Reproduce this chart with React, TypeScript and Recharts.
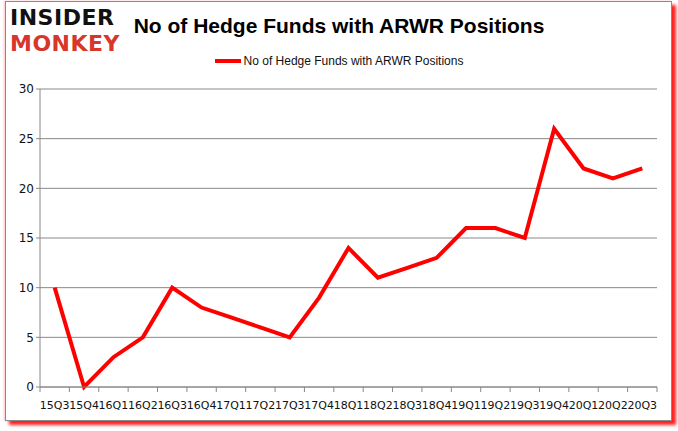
import { LineChart, Line, XAxis, YAxis, CartesianGrid } from "recharts";

const quarters = [
  "15Q3", "15Q4", "16Q1", "16Q2", "16Q3", "16Q4", "17Q1", "17Q2", "17Q3", "17Q4",
  "18Q1", "18Q2", "18Q3", "18Q4", "19Q1", "19Q2", "19Q3", "19Q4", "20Q1", "20Q2", "20Q3",
];
const funds = [10, 0, 3, 5, 10, 8, 7, 6, 5, 9, 14, 11, 12, 13, 16, 16, 15, 26, 22, 21, 22];
const yTicks = [0, 5, 10, 15, 20, 25, 30];

const seriesName = "No of Hedge Funds with ARWR Positions";
const data = quarters.map((q, i) => ({ quarter: q, count: funds[i] }));

const W = 678;
const H = 431;
const PLOT_LEFT = 40;
const PLOT_RIGHT = 657;
const band = (PLOT_RIGHT - PLOT_LEFT) / quarters.length;

const XTick = (props: any) => {
  const { x, y, payload, index } = props;
  const left = x - band / 2;
  return (
    <g>
      <line x1={left} x2={left} y1={y - 8} y2={y - 3} stroke="#888" />
      {index === quarters.length - 1 && (
        <line x1={left + band} x2={left + band} y1={y - 8} y2={y - 3} stroke="#888" />
      )}
      <text x={x} y={y + 14} textAnchor="middle" fontSize={11} fill="#111" fontFamily="DejaVu Sans">
        {payload.value}
      </text>
    </g>
  );
};

const logoStyle = {
  position: "absolute" as const,
  left: 10,
  fontFamily: "DejaVu Sans",
  fontWeight: 900,
  fontSize: 22,
  lineHeight: "26px",
  letterSpacing: 0.5,
};

export default function App() {
  return (
    <div style={{ position: "absolute", left: 0, top: 0, width: W, height: H, background: "#fff", overflow: "hidden" }}>
      <div
        style={{
          position: "absolute",
          left: 5,
          top: 1,
          width: 665,
          height: 418,
          border: "1px solid #8a8a8a",
          boxShadow: "4px 4px 3px #ff2020, -1px 0 2px #ffc0c0",
          background: "#fff",
        }}
      />
      <div style={{ ...logoStyle, top: 5, color: "#111" }}>INSIDER</div>
      <div style={{ ...logoStyle, top: 31, color: "#d9362b" }}>MONKEY</div>
      <div style={{ position: "absolute", left: 0, width: W, top: 14, textAlign: "center", fontFamily: "Liberation Sans", fontWeight: 700, fontSize: 21, color: "#000" }}>
        {seriesName}
      </div>
      <div
        style={{
          position: "absolute",
          left: 0,
          width: W,
          top: 54,
          display: "flex",
          justifyContent: "center",
          alignItems: "center",
          fontFamily: "Liberation Sans",
          fontSize: 12,
          color: "#111",
        }}
      >
        <span style={{ display: "inline-block", width: 26, height: 4, background: "#ff0000", marginRight: 3 }} />
        {seriesName}
      </div>
      <div style={{ position: "absolute", left: 0, top: 0 }}>
        <LineChart width={W} height={H} data={data} margin={{ top: 89, right: W - PLOT_RIGHT, bottom: 14, left: 10 }}>
          <CartesianGrid vertical={false} stroke="#888" />
          <XAxis
            dataKey="quarter"
            height={30}
            interval={0}
            tickLine={false}
            axisLine={{ stroke: "#888" }}
            padding={{ left: band / 2, right: band / 2 }}
            tick={<XTick />}
          />
          <YAxis
            width={30}
            domain={[0, 30]}
            ticks={yTicks}
            interval={0}
            axisLine={{ stroke: "#888" }}
            tickLine={{ stroke: "#888" }}
            tickSize={4}
            tick={{ fontSize: 12, fill: "#111", fontFamily: "DejaVu Sans" }}
          />
          <Line
            type="linear"
            dataKey="count"
            name={seriesName}
            stroke="#ff0000"
            strokeWidth={4}
            dot={false}
            isAnimationActive={false}
          />
        </LineChart>
      </div>
    </div>
  );
}
